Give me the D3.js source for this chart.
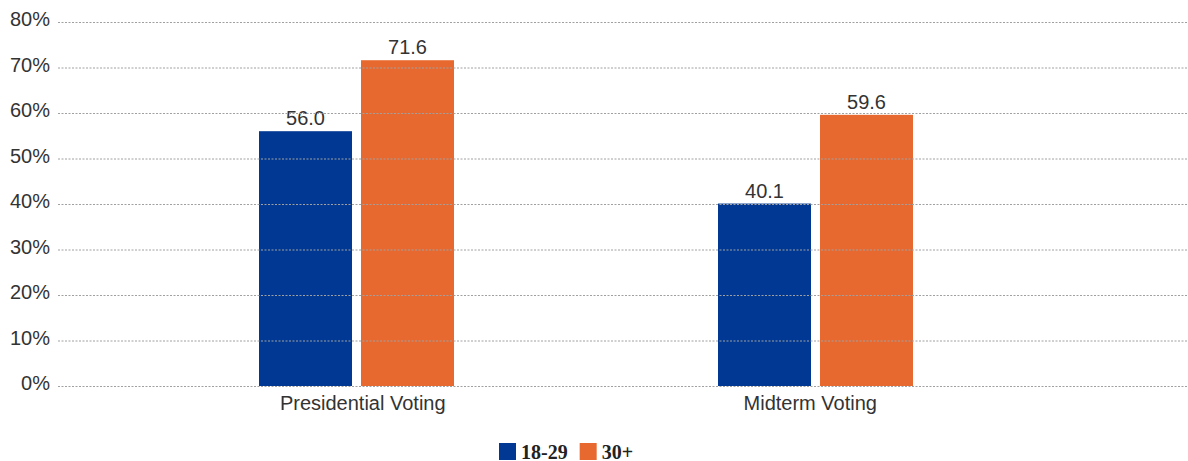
<!DOCTYPE html>
<html><head><meta charset="utf-8">
<script src="https://cdn.jsdelivr.net/npm/d3@7"></script>
<style>body{margin:0;background:#fff}svg{display:block}</style>
</head><body>
<script>
const categories = ["Presidential Voting", "Midterm Voting"];
const seriesNames = ["18-29", "30+"];
const youth = [56.0, 40.1];
const older = [71.6, 59.6];
const yTicks = [0, 10, 20, 30, 40, 50, 60, 70, 80];
const colors = ["#003893", "#E8692F"];

const W = 1188, H = 461;
const FONT = "Liberation Sans, Arial, sans-serif";
const svg = d3.select("body").append("svg").attr("width", W).attr("height", H);
const y = d3.scaleLinear().domain([0, 80]).range([386, 22]);
const x = d3.scaleBand().domain(categories).range([127, 1045]);
const xLabel = d3.scaleBand().domain(categories).range([139, 1034]);
const barW = 93, gap = 9;
const series = [youth, older];

const g = svg.append("g");
categories.forEach((c, i) => {
  const cx = x(c) + x.bandwidth() / 2;
  series.forEach((s, j) => {
    const bx = j === 0 ? cx - gap / 2 - barW : cx + gap / 2;
    g.append("rect").attr("x", bx).attr("y", y(s[i])).attr("width", barW)
      .attr("height", y(0) - y(s[i])).attr("fill", colors[j]);
    g.append("text").attr("x", bx + barW / 2).attr("y", y(s[i]) - 6)
      .attr("text-anchor", "middle").attr("font-family", FONT)
      .attr("font-size", 20).attr("fill", "#333").text(s[i].toFixed(1));
  });
  svg.append("text").attr("x", xLabel(c) + xLabel.bandwidth() / 2).attr("y", 410).attr("text-anchor", "middle")
    .attr("font-family", FONT).attr("font-size", 20)
    .attr("fill", "#333").text(c);
});

// gridlines drawn on top of bars
const grid = svg.append("g");
yTicks.forEach(t => {
  grid.append("line").attr("x1", 58).attr("x2", W).attr("y1", y(t) + 0.5).attr("y2", y(t) + 0.5)
    .attr("stroke", "#a0a0a0").attr("stroke-width", 1).attr("stroke-dasharray", "2,1.5");
  svg.append("text").attr("x", 50).attr("y", y(t) + 4).attr("text-anchor", "end")
    .attr("font-family", FONT).attr("font-size", 20)
    .attr("fill", "#333").text(t + "%");
});

// legend
const leg = svg.append("g").attr("transform", "translate(499,443)");
let lx = 0;
seriesNames.forEach((n, j) => {
  leg.append("rect").attr("x", lx).attr("y", 0).attr("width", 17).attr("height", 17).attr("fill", colors[j]);
  const t = leg.append("text").attr("x", lx + 22).attr("y", 15.5)
    .attr("font-family", "Liberation Serif, Times New Roman, serif").attr("font-weight", "bold")
    .attr("font-size", 20).attr("fill", "#222").text(n);
  lx += 22 + t.node().getComputedTextLength() + 12;
});
</script>
</body></html>
